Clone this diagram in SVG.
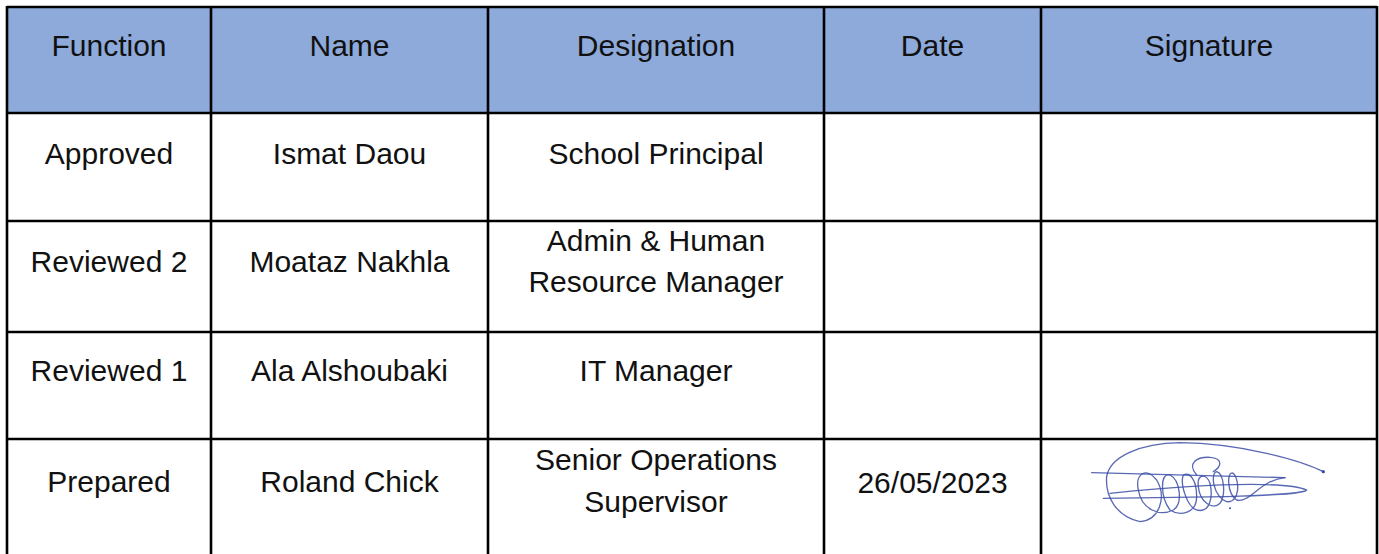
<svg xmlns="http://www.w3.org/2000/svg" width="1379" height="554" viewBox="0 0 1379 554">
<style>
.t{font-family:"Liberation Sans",Arial,sans-serif;font-size:30px;fill:#111;text-anchor:middle}
.ln{stroke:#000;stroke-width:2.6;fill:none}
.sig{fill:none;stroke:#3b4ea6;stroke-width:4;stroke-linecap:round;stroke-linejoin:round;opacity:0.85}
</style>
<rect x="0" y="0" width="1379" height="554" fill="#fff"/>
<g id="header">
<rect x="7" y="7" width="1370" height="106" fill="#8eaadb"/>
<text class="t" x="109" y="56">Function</text>
<text class="t" x="349.5" y="56">Name</text>
<text class="t" x="656" y="56">Designation</text>
<text class="t" x="932.5" y="56">Date</text>
<text class="t" x="1209" y="56">Signature</text>
</g>
<g id="grid">
<line class="ln" x1="7" y1="7" x2="1377" y2="7"/>
<line class="ln" x1="7" y1="113" x2="1377" y2="113"/>
<line class="ln" x1="7" y1="221" x2="1377" y2="221"/>
<line class="ln" x1="7" y1="332" x2="1377" y2="332"/>
<line class="ln" x1="7" y1="439" x2="1377" y2="439"/>
<line class="ln" x1="7" y1="6" x2="7" y2="554"/>
<line class="ln" x1="211" y1="6" x2="211" y2="554"/>
<line class="ln" x1="488" y1="6" x2="488" y2="554"/>
<line class="ln" x1="824" y1="6" x2="824" y2="554"/>
<line class="ln" x1="1041" y1="6" x2="1041" y2="554"/>
<line class="ln" x1="1377" y1="6" x2="1377" y2="554"/>
</g>
<g id="row-approved">
<text class="t" x="109" y="164">Approved</text>
<text class="t" x="349.5" y="164">Ismat Daou</text>
<text class="t" x="656" y="164">School Principal</text>
</g>
<g id="row-reviewed2">
<text class="t" x="109" y="272">Reviewed 2</text>
<text class="t" x="349.5" y="272">Moataz Nakhla</text>
<text class="t" x="656" y="251">Admin &amp; Human</text>
<text class="t" x="656" y="292">Resource Manager</text>
</g>
<g id="row-reviewed1">
<text class="t" x="109" y="381">Reviewed 1</text>
<text class="t" x="349.5" y="381">Ala Alshoubaki</text>
<text class="t" x="656" y="381">IT Manager</text>
</g>
<g id="row-prepared">
<text class="t" x="109" y="492">Prepared</text>
<text class="t" x="349.5" y="492">Roland Chick</text>
<text class="t" x="656" y="470">Senior Operations</text>
<text class="t" x="656" y="512">Supervisor</text>
<text class="t" x="932.5" y="493">26/05/2023</text>
<g id="signature" transform="translate(1040,430) scale(0.3333)">
<path class="sig" d="M 850 125 C 780 90, 600 40, 420 38 C 300 40, 210 80, 200 140 C 195 200, 230 260, 300 275 C 360 270, 380 200, 350 150 C 320 110, 285 130, 295 180 C 305 240, 360 260, 400 240 C 430 220, 420 150, 390 135 C 360 125, 360 200, 390 240 C 420 260, 470 250, 470 200 C 470 150, 450 125, 430 135 C 420 160, 440 230, 470 240 C 510 250, 520 200, 510 160 C 500 130, 470 130, 475 170 C 480 220, 520 240, 540 220 C 560 190, 550 130, 530 125 C 510 130, 520 200, 560 215 C 600 220, 600 150, 580 130 C 560 120, 560 190, 590 210 C 630 220, 660 150, 735 143"/>
<path class="sig" d="M 470 135 C 440 100, 470 80, 510 82 C 550 85, 545 110, 520 125"/>
<path class="sig" d="M 155 128 L 735 143"/>
<path class="sig" d="M 190 205 L 560 200 C 680 196, 790 192, 800 180 C 760 162, 600 150, 210 190"/>
<circle cx="850" cy="125" r="5" fill="#3b4ea6"/>
<circle cx="570" cy="235" r="3" fill="#3b4ea6"/>
</g>
</g>
</svg>
